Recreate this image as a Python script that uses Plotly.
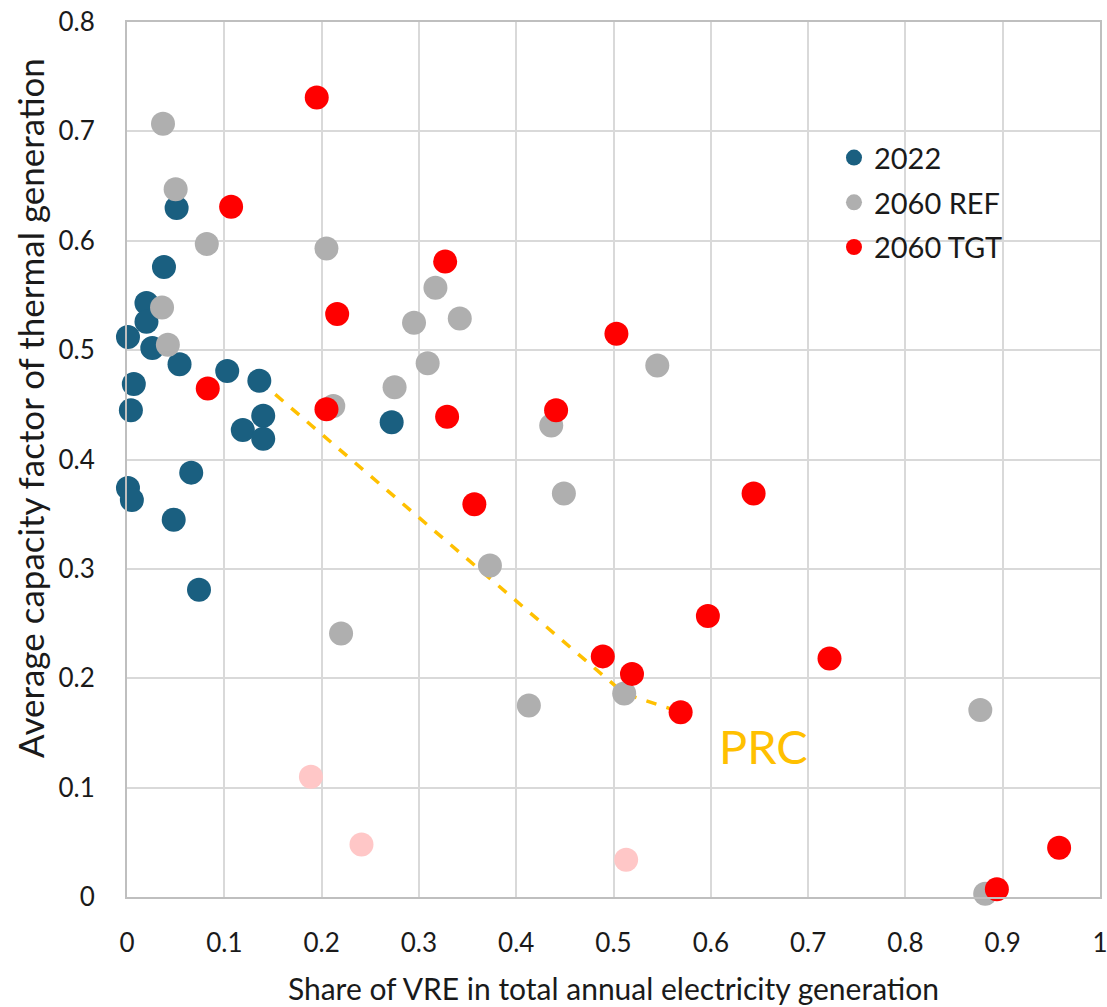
import plotly.graph_objects as go

# 2022
x_2022 = [0.051, 0.038, 0.020, 0.020, 0.001, 0.026, 0.054, 0.007, 0.103, 0.136,
          0.004, 0.140, 0.119, 0.140, 0.272, 0.066, 0.001, 0.005, 0.048, 0.074]
y_2022 = [0.630, 0.576, 0.543, 0.526, 0.512, 0.502, 0.487, 0.469, 0.481, 0.472,
          0.445, 0.440, 0.427, 0.419, 0.434, 0.388, 0.374, 0.363, 0.345, 0.281]

# 2060 REF
x_ref = [0.037, 0.050, 0.082, 0.205, 0.036, 0.042, 0.317, 0.295, 0.342, 0.309,
         0.275, 0.212, 0.373, 0.220, 0.413, 0.436, 0.449, 0.545, 0.511, 0.877, 0.882]
y_ref = [0.707, 0.647, 0.597, 0.593, 0.539, 0.505, 0.557, 0.525, 0.529, 0.488,
         0.466, 0.449, 0.303, 0.241, 0.175, 0.431, 0.369, 0.486, 0.186, 0.171, 0.003]

# 2060 TGT
x_tgt = [0.195, 0.107, 0.083, 0.216, 0.205, 0.327, 0.329, 0.357, 0.503, 0.441,
         0.644, 0.597, 0.489, 0.519, 0.569, 0.722, 0.958, 0.894]
y_tgt = [0.731, 0.631, 0.465, 0.533, 0.446, 0.581, 0.439, 0.359, 0.515, 0.445,
         0.369, 0.257, 0.220, 0.204, 0.169, 0.218, 0.045, 0.007]

# 2060 TGT (faded points)
x_tgt_faded = [0.189, 0.241, 0.513]
y_tgt_faded = [0.110, 0.048, 0.034]

# PRC trajectory (indices into each series)
prc_idx_2022 = 9
prc_idx_ref = 18
prc_idx_tgt = 14
prc_label = "PRC"

x_ticks = [0, 0.1, 0.2, 0.3, 0.4, 0.5, 0.6, 0.7, 0.8, 0.9, 1]
x_ticktext = ["0", "0.1", "0.2", "0.3", "0.4", "0.5", "0.6", "0.7", "0.8", "0.9", "1"]
y_ticks = [0, 0.1, 0.2, 0.3, 0.4, 0.5, 0.6, 0.7, 0.8]
y_ticktext = ["0", "0.1", "0.2", "0.3", "0.4", "0.5", "0.6", "0.7", "0.8"]

FONT = "Lato, 'Noto Sans', sans-serif"
MS = 24

fig = go.Figure()

prc_x = [x_2022[prc_idx_2022], x_ref[prc_idx_ref], x_tgt[prc_idx_tgt]]
prc_y = [y_2022[prc_idx_2022], y_ref[prc_idx_ref], y_tgt[prc_idx_tgt]]
fig.add_trace(go.Scatter(x=prc_x, y=prc_y, mode="lines",
                         line=dict(color="#ffc000", width=3.5, dash="dash"),
                         showlegend=False, hoverinfo="skip"))

fig.add_trace(go.Scatter(x=x_tgt_faded, y=y_tgt_faded, mode="markers",
                         marker=dict(size=MS, color="#ffc7c7"),
                         showlegend=False, cliponaxis=False))

fig.add_trace(go.Scatter(x=x_2022, y=y_2022, mode="markers", name="2022",
                         legendgroup="a",
                         marker=dict(size=MS, color="#1a5f80"), cliponaxis=False))
fig.add_trace(go.Scatter(x=x_ref, y=y_ref, mode="markers", name="2060 REF",
                         legendgroup="b",
                         marker=dict(size=MS, color="#afafaf"), cliponaxis=False))
fig.add_trace(go.Scatter(x=x_tgt, y=y_tgt, mode="markers", name="2060 TGT",
                         legendgroup="c",
                         marker=dict(size=MS, color="#ff0000"), cliponaxis=False))

fig.add_annotation(x=0.606, y=0.138, xref="x", yref="y",
                   text=prc_label, showarrow=False, xanchor="left", yanchor="middle",
                   font=dict(family=FONT, size=47, color="#ffc000"))

# y-axis title as annotation (positioned like the reference)
fig.add_annotation(x=(30 - 127) / 973, y=0.559, xref="paper", yref="paper",
                   text="Average capacity factor of thermal generation",
                   textangle=-90, showarrow=False, xanchor="center", yanchor="middle",
                   font=dict(family=FONT, size=35, color="#1a1a1a"))

fig.update_layout(
    width=1107, height=1007,
    margin=dict(l=127, r=7, t=22, b=110),
    paper_bgcolor="white", plot_bgcolor="white",
    font=dict(family=FONT, color="#1a1a1a"),
    legend=dict(x=0.7266, y=0.874, xanchor="left", yanchor="top",
                font=dict(family=FONT, size=29, color="#1a1a1a"),
                bgcolor="rgba(255,255,255,0)", tracegroupgap=4,
                itemsizing="trace"),
    xaxis=dict(range=[0, 1], tickvals=x_ticks, ticktext=x_ticktext,
               showgrid=True, gridcolor="#d9d9d9", gridwidth=2,
               showline=True, linecolor="#bfbfbf", linewidth=2, mirror=True,
               zeroline=False, ticks="", ticklabelstandoff=22, automargin=False,
               ticklabeloverflow="allow",
               tickfont=dict(family=FONT, size=26),
               title=dict(text="Share of VRE in total annual electricity generation",
                          font=dict(family=FONT, size=30), standoff=22)),
    yaxis=dict(range=[0, 0.8], tickvals=y_ticks, ticktext=y_ticktext,
               showgrid=True, gridcolor="#d9d9d9", gridwidth=2,
               showline=True, linecolor="#bfbfbf", linewidth=2, mirror=True,
               zeroline=False, ticks="", ticklabelstandoff=25, automargin=False,
               ticklabeloverflow="allow",
               tickfont=dict(family=FONT, size=26)),
)

fig.write_html("out.html")
